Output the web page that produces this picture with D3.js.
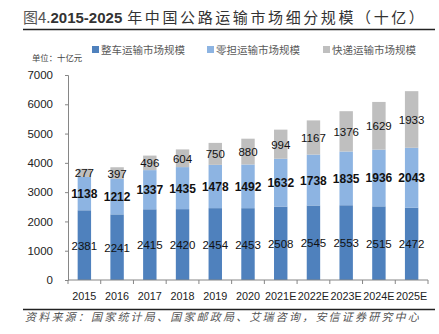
<!DOCTYPE html>
<html>
<head>
<meta charset="utf-8">
<script src="https://cdn.jsdelivr.net/npm/d3@7"></script>
<style>
  body { margin: 0; background: #fff; }
  svg { display: block; }
</style>
</head>
<body>
<svg id="chart" width="439" height="334"></svg>
<script>
// years along the x axis (E = estimate)
const years = ["2015", "2016", "2017", "2018", "2019", "2020", "2021E", "2022E", "2023E", "2024E", "2025E"];
// 整车 / 零担 / 快递 market size, 十亿元
const ftl = [2381, 2241, 2415, 2420, 2454, 2453, 2508, 2545, 2553, 2515, 2472];
const ltl = [1138, 1212, 1337, 1435, 1478, 1492, 1632, 1738, 1835, 1936, 2043];
const express = [277, 397, 496, 604, 750, 880, 994, 1167, 1376, 1629, 1933];
const seriesNames = ["整车运输市场规模", "零担运输市场规模", "快递运输市场规模"];
const yTicks = [0, 1000, 2000, 3000, 4000, 5000, 6000, 7000];

const colors = ["#4f81bd", "#8db4e2", "#bfbfbf"];
const cjk = "'Noto Sans CJK SC', sans-serif";
const num = "'Liberation Sans', 'Noto Sans', sans-serif";

let svg = d3.select("#chart");
let margin = {left: 68, right: 11, top: 75, bottom: 54};
let width = 439 - margin.left - margin.right;
let height = 334 - margin.top - margin.bottom;

// title
let title = svg.append("text").attr("x", 23).attr("y", 23).attr("font-size", 15);
title.append("tspan").attr("font-family", cjk).attr("fill", "#555").text("图4.");
title.append("tspan").attr("font-family", num).attr("font-weight", "bold").attr("fill", "#333").text("2015-2025");
title.append("tspan").attr("font-family", cjk).attr("fill", "#333").attr("letter-spacing", 2.6).attr("dx", 5)
  .text("年中国公路运输市场细分规模（十亿）");
svg.append("line").attr("x1", 23).attr("x2", 435).attr("y1", 29.5).attr("y2", 29.5)
  .attr("stroke", "#222").attr("stroke-width", 1.3);

// unit
svg.append("text").attr("x", 32).attr("y", 61).attr("font-size", 8.4).attr("font-family", cjk)
  .attr("fill", "#444").text("单位：十亿元");

// legend
let legendX = [92, 207, 323];
seriesNames.forEach((name, i) => {
  svg.append("rect").attr("x", legendX[i]).attr("y", 46).attr("width", 7).attr("height", 7).attr("fill", colors[i]);
  svg.append("text").attr("x", legendX[i] + 9).attr("y", 54).attr("font-size", 10.5).attr("font-family", cjk)
    .attr("fill", "#595959").text(name);
});

let g = svg.append("g").attr("transform", "translate(" + margin.left + "," + margin.top + ")");

let x = d3.scaleBand().domain(years).range([0, width]).paddingInner(0.59).paddingOuter(0.295);
let y = d3.scaleLinear().domain([0, 7000]).range([height, 0]);

let rows = years.map((yr, i) => ({year: yr, ftl: ftl[i], ltl: ltl[i], express: express[i]}));
let stack = d3.stack().keys(["ftl", "ltl", "express"])(rows);

stack.forEach((layer, li) => {
  g.append("g").selectAll("rect")
    .data(layer)
    .enter()
    .append("rect")
    .attr("x", d => x(d.data.year))
    .attr("width", x.bandwidth())
    .attr("y", d => y(d[1]))
    .attr("height", d => y(d[0]) - y(d[1]))
    .attr("fill", colors[li]);
});

// y axis
let yAxis = g.append("g")
  .call(d3.axisLeft(y).tickValues(yTicks).tickFormat(d3.format("d")).tickSize(3).tickPadding(12));
yAxis.select(".domain").attr("stroke", "#868686");
yAxis.selectAll(".tick line").attr("stroke", "#868686");
yAxis.selectAll("text").attr("font-size", 11.5).attr("font-family", num).attr("fill", "#222");

// x axis
let xOuter = d3.scaleLinear().domain([0, years.length]).range([0, width]);
let xAxis = g.append("g").attr("transform", "translate(0," + height + ")");
xAxis.append("line").attr("x1", 0).attr("x2", width).attr("stroke", "#868686");
xAxis.selectAll(".tk").data(d3.range(years.length + 1)).enter().append("line")
  .attr("x1", d => xOuter(d)).attr("x2", d => xOuter(d)).attr("y1", 0).attr("y2", 4)
  .attr("stroke", "#868686");
xAxis.selectAll("text").data(years).enter().append("text")
  .attr("x", d => x(d) + x.bandwidth() / 2).attr("y", 20)
  .attr("text-anchor", "middle").attr("font-size", 10.8).attr("font-family", num).attr("fill", "#222")
  .text(d => d);

// value labels
stack.forEach((layer, li) => {
  g.append("g").selectAll("text")
    .data(layer)
    .enter()
    .append("text")
    .attr("x", d => x(d.data.year) + x.bandwidth() / 2)
    .attr("y", d => y((d[0] + d[1]) / 2) + 4.5)
    .attr("text-anchor", "middle")
    .attr("font-size", li === 1 ? 12 : 11.5)
    .attr("font-family", num)
    .attr("font-weight", li === 1 ? "bold" : "normal")
    .attr("fill", "#111")
    .text(d => d[1] - d[0]);
});

// source line
svg.append("line").attr("x1", 23).attr("x2", 435).attr("y1", 309.5).attr("y2", 309.5)
  .attr("stroke", "#222").attr("stroke-width", 1.3);
svg.append("text").attr("x", 25).attr("y", 321).attr("font-size", 11).attr("font-family", cjk)
  .attr("font-style", "italic").attr("fill", "#555").attr("letter-spacing", 2.2)
  .text("资料来源：国家统计局、国家邮政局、艾瑞咨询，安信证券研究中心");
</script>
</body>
</html>
